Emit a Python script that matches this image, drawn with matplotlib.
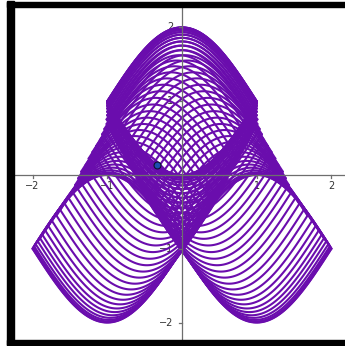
import numpy as np
import matplotlib.pyplot as plt
from matplotlib.patches import Rectangle

# centre x of each lens and its mid height (left-hand family; the right one is its mirror)
lens_x = [-1.00, -1.00, -0.99, -0.98, -0.96, -0.93, -0.90, -0.87, -0.83, -0.79,
          -0.74, -0.68, -0.63, -0.57, -0.52, -0.47, -0.43, -0.39, -0.35, -0.29,
          -0.25, -0.20, -0.15, -0.10, -0.07, -0.04, -0.01, -0.01, 0.00, 0.00,
          0.00, 0.00, 0.00, 0.00, 0.00, 0.00]
lens_c = [-1.000, -0.996, -0.984, -0.964, -0.936, -0.901, -0.858, -0.809, -0.753, -0.691,
          -0.623, -0.551, -0.473, -0.391, -0.309, -0.223, -0.135, -0.045, 0.045, 0.135,
          0.223, 0.309, 0.391, 0.473, 0.551, 0.623, 0.691, 0.753, 0.809, 0.858,
          0.901, 0.936, 0.964, 0.984, 0.996, 1.000]

xticks = [-2, -1, 1, 2]
yticks = [-2, -1, 1, 2]
point = (-0.33, 0.14)

purple = '#6a0dad'

fig = plt.figure(figsize=(3.45, 3.46), dpi=100)
ax = fig.add_axes([14/345, 6/346, 331/345, 333/346])
ax.set_xlim(-2.249, 2.182)
ax.set_ylim(-2.236, 2.276)
ax.axis('off')

# axes through the origin
ax.axhline(0, color='#6e6e6e', lw=0.9, zorder=3)
ax.axvline(0, color='#6e6e6e', lw=0.9, zorder=3)
for t in xticks:
    ax.plot([t, t], [0, -0.035], color='#6e6e6e', lw=0.9, zorder=3)
    ax.text(t, -0.15, str(t).replace('-', '\u2212'), ha='center', va='center',
            fontsize=7, color='#333333', zorder=1)
for t in yticks:
    ax.plot([0, -0.035], [t, t], color='#6e6e6e', lw=0.9, zorder=3)
    ax.text(-0.12, t, str(t).replace('-', '\u2212'), ha='right', va='center',
            fontsize=7, color='#333333', zorder=1)

# each lens: a trough arc and a peak arc sharing the same two ends
for xc, c in zip(lens_x, lens_c):
    u = np.linspace(-1, 1, 80)
    arc = np.cos(np.pi * u / 2)
    for sgn in (1, -1):
        xs = sgn * (xc + u)
        ax.plot(xs, c - arc, color=purple, lw=1.5, zorder=2, solid_capstyle='round')
        ax.plot(xs, c + arc, color=purple, lw=1.5, zorder=2, solid_capstyle='round')

ax.plot(*point, 'o', ms=5, mfc='#1d4fb0', mec='#101030', mew=0.8, zorder=5)

# black frame (open on the right)
fig.add_artist(Rectangle((7/345, 1/346), 7/345, 344/346, transform=fig.transFigure,
                         color='black', zorder=10))
fig.add_artist(Rectangle((7/345, 339/346), 338/345, 5/346, transform=fig.transFigure,
                         color='black', zorder=10))
fig.add_artist(Rectangle((7/345, 1/346), 338/345, 5/346, transform=fig.transFigure,
                         color='black', zorder=10))

fig.savefig('out.png', dpi=100)
